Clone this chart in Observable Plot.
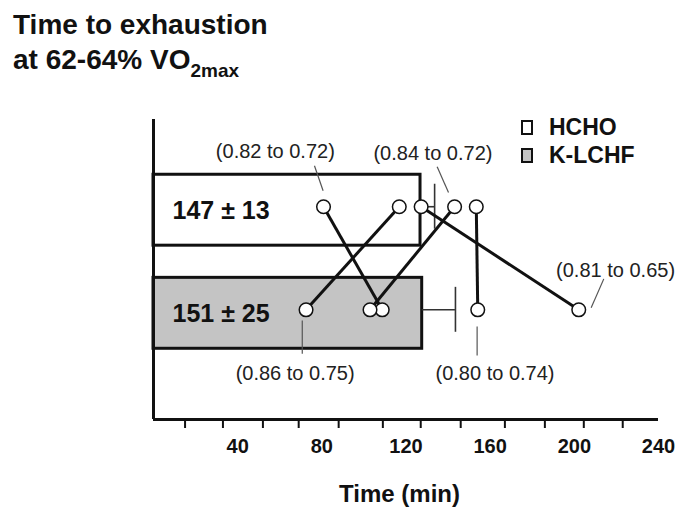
<!DOCTYPE html>
<html><head><meta charset="utf-8">
<script src="https://cdn.jsdelivr.net/npm/d3@7"></script>
<script src="https://cdn.jsdelivr.net/npm/@observablehq/plot@0.6"></script>
<style>
html,body{margin:0;padding:0;background:#fff;}
body{width:680px;height:517px;overflow:hidden;font-family:"Liberation Sans",Arial,Helvetica,sans-serif;}
#wrap{position:relative;width:680px;height:517px;}
#title{height:80px;box-sizing:border-box;padding:7px 0 0 13px;font-size:28px;font-weight:bold;line-height:35px;color:#111;}
#title .sub{font-size:19px;position:relative;top:8px;}
#legend{position:absolute;left:521px;top:113px;font-size:23px;font-weight:bold;line-height:28px;color:#111;}
#legend .sw{display:inline-block;width:12px;height:15px;box-sizing:border-box;border:2.5px solid #111;margin-right:16px;vertical-align:baseline;}
#chart svg{display:block;}
</style></head><body>
<div id="wrap">
<div id="title">Time to exhaustion<br>at 62-64% VO<span class="sub">2max</span></div>
<div id="chart"></div>
<div id="legend"></div>
</div>
<script>
// ---- data ----
const diets = ["HCHO", "K-LCHF"];
const dietFills = ["#ffffff", "#c4c4c4"];
const meanLabels = ["147 ± 13", "151 ± 25"];
const barEnds = [126.9, 127.7];          // minutes, where the drawn bars end
const errorEnds = [133.6, 143.5];        // minutes, error-bar caps
const hchoTimes = [80.8, 116.8, 127.2, 143.1, 153.4];   // per subject
const klchfTimes = [108.7, 72.5, 202.1, 102.9, 154.1];  // same subjects
const tickMinutes = [15, 33, 52, 69, 88, 109, 127, 146, 167, 186, 204.5, 223];
const tickLabels = [40, 80, 120, 160, 200, 240];
const rerLabels = ["(0.82 to 0.72)", "(0.84 to 0.72)", "(0.81 to 0.65)", "(0.80 to 0.74)", "(0.86 to 0.75)"];
const rerLabelX = [57.9, 132.8, 219.6, 162.3, 67.3];
const rerLabelRow = [0.431, 0.450, 1.586, 2.583, 2.583];
const leaderX1 = [76.5, 134.8, 214.0, 153.8, 70.7];
const leaderRow1 = [0.569, 0.579, 1.666, 2.128, 2.070];
const leaderX2 = [80.6, 140.2, 208.0, 153.8, 70.7];
const leaderRow2 = [0.811, 0.828, 1.947, 2.409, 2.392];
const xLabel = "Time (min)";

// ---- derived tables ----
const rows = diets.map((d, i) => ({diet: d, row: i + 1, end: barEnds[i], err: errorEnds[i], label: meanLabels[i], fill: dietFills[i]}));
const points = [
  ...hchoTimes.map(t => ({row: 1, t})),
  ...klchfTimes.map(t => ({row: 2, t}))
];
const subjects = hchoTimes.map((t, i) => ({a: t, b: klchfTimes[i]}));
const notes = rerLabels.map((s, i) => ({s, x: rerLabelX[i], y: rerLabelRow[i], x1: leaderX1[i], y1: leaderRow1[i], x2: leaderX2[i], y2: leaderRow2[i]}));

const H = 0.344, CAP = 0.218, DY = -3.5;
const yMin = 0.12, yMax = 3.03;
const font = "'Liberation Sans', Arial, Helvetica, sans-serif";

const chart = Plot.plot({
  width: 680, height: 437,
  marginLeft: 153, marginRight: 22, marginTop: 39, marginBottom: 98,
  x: {domain: [0, 240]},
  y: {domain: [yMin, yMax], reverse: true, axis: null},
  color: {type: "identity"},
  style: {fontFamily: font, background: "white", color: "#111", overflow: "visible"},
  marks: [
    Plot.rect(rows, {x1: () => 0, x2: "end", y1: d => d.row - H, y2: d => d.row + H, fill: "fill", stroke: "#111", strokeWidth: 3}),
    Plot.ruleY(rows, {y: "row", x1: "end", x2: "err", dy: DY, stroke: "#333", strokeWidth: 1.6}),
    Plot.ruleX(rows, {x: "err", y1: d => d.row - CAP, y2: d => d.row + CAP, dy: DY, stroke: "#333", strokeWidth: 1.6}),
    Plot.link(subjects, {x1: "a", y1: () => 1, x2: "b", y2: () => 2, dy: DY, stroke: "#111", strokeWidth: 3}),
    Plot.link(notes, {x1: "x1", y1: "y1", x2: "x2", y2: "y2", stroke: "#555", strokeWidth: 1.2}),
    Plot.dot(points, {x: "t", y: "row", r: 6.8, fill: "white", stroke: "#111", strokeWidth: 1.5, dy: DY}),
    Plot.ruleX([0], {stroke: "#111", strokeWidth: 3}),
    Plot.ruleY([yMax], {stroke: "#111", strokeWidth: 3}),
    Plot.axisX({ticks: tickMinutes, tickSize: 9, strokeWidth: 2, tickFormat: () => "", label: null}),
    Plot.axisX({ticks: tickLabels, tickSize: 0, tickPadding: 19, fontSize: 20, fontWeight: "bold", label: null}),
    Plot.text([xLabel], {text: d => d, frameAnchor: "bottom", dy: 82, dx: -6.5, fontSize: 24, fontWeight: "bold"}),
    Plot.text(rows, {x: () => 0, y: "row", text: "label", textAnchor: "start", dx: 19, dy: 1, fontSize: 25, fontWeight: "bold"}),
    Plot.text(notes, {x: "x", y: "y", text: "s", fontSize: 20, fill: "#222"})
  ]
});
document.getElementById("chart").appendChild(chart);

// legend
const legend = document.getElementById("legend");
diets.forEach((d, i) => {
  const row = document.createElement("div");
  const sw = document.createElement("span");
  sw.className = "sw";
  sw.style.background = dietFills[i];
  row.appendChild(sw);
  row.appendChild(document.createTextNode(d));
  legend.appendChild(row);
});
</script>
</body></html>
